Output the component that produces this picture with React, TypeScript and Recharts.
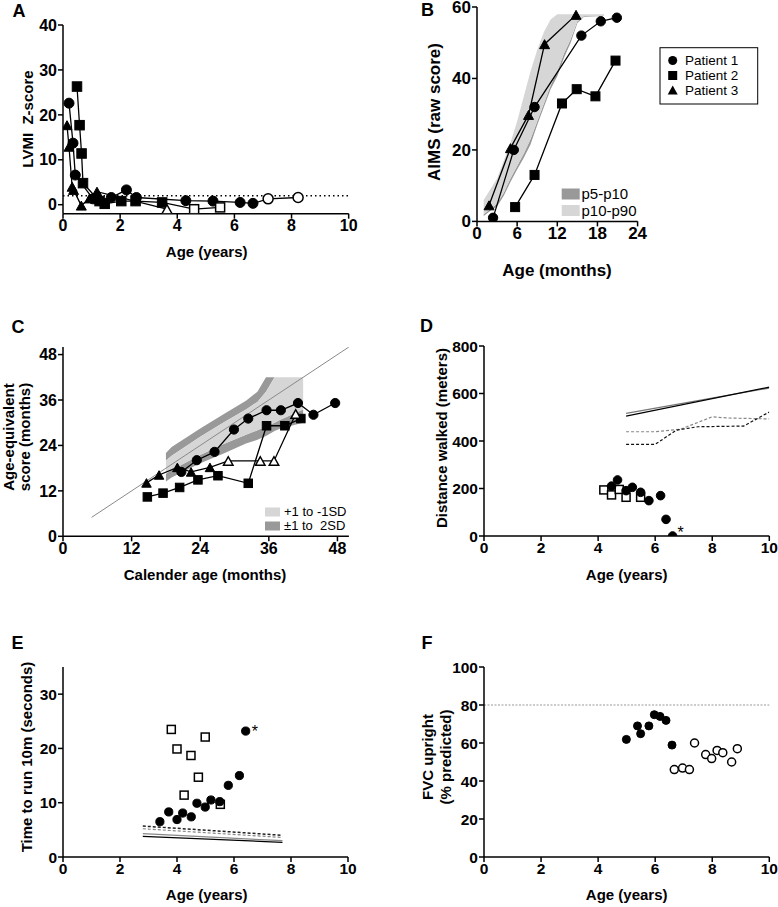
import React from "react";
import { ComposedChart, XAxis, YAxis, Scatter, Area, ReferenceLine } from "recharts";

const FONT = '"Liberation Sans", Arial, Helvetica, sans-serif';

// ---- Panel A: LVMI Z-score vs age (years)
const aP1 = [
  { x: 0.21, y: 22.6 }, { x: 0.35, y: 13.7 }, { x: 0.43, y: 6.6 }, { x: 1.05, y: 1.3 },
  { x: 1.25, y: 1.0 }, { x: 1.69, y: 1.6 }, { x: 2.22, y: 3.3 }, { x: 2.57, y: 1.6 },
  { x: 4.3, y: 0.9 }, { x: 5.25, y: 0.8 }, { x: 6.2, y: 0.5 }, { x: 6.65, y: 0.3 },
];
const aP1Open = [{ x: 7.18, y: 1.3 }, { x: 8.23, y: 1.6 }];
const aP2 = [
  { x: 0.49, y: 26.3 }, { x: 0.58, y: 17.7 }, { x: 0.65, y: 11.4 }, { x: 0.7, y: 4.8 },
  { x: 1.28, y: 0.8 }, { x: 1.46, y: 0.2 }, { x: 2.04, y: 0.8 }, { x: 2.54, y: 0.8 }, { x: 3.47, y: 0.5 },
];
const aP2Open = [{ x: 4.59, y: -1.0 }, { x: 5.5, y: -0.6 }];
const aP3 = [
  { x: 0.14, y: 17.7 }, { x: 0.21, y: 12.9 }, { x: 0.32, y: 4.0 }, { x: 0.37, y: 3.3 },
  { x: 0.64, y: -0.2 }, { x: 0.93, y: 1.4 }, { x: 1.19, y: 2.9 },
];
const aP3Open = [{ x: 3.64, y: -1.0 }];

// ---- Panel B: AIMS raw score vs age (months)
const bP1 = [
  { x: 2.4, y: 1 }, { x: 5.5, y: 20 }, { x: 8.6, y: 32 }, { x: 15.6, y: 52 }, { x: 18.5, y: 56 }, { x: 20.9, y: 57 },
];
const bP2 = [
  { x: 5.7, y: 4 }, { x: 8.6, y: 13 }, { x: 12.7, y: 33 }, { x: 14.9, y: 37 }, { x: 17.7, y: 35 }, { x: 20.7, y: 45 },
];
const bP3 = [
  { x: 1.8, y: 4.5 }, { x: 5.0, y: 20.5 }, { x: 7.7, y: 29.8 }, { x: 10.1, y: 49.6 }, { x: 14.8, y: 57.8 },
];
const bBandMonths = [1, 2, 3, 4, 5, 6, 7, 8, 9, 10, 11, 12, 13, 14, 15, 16, 19];
const bP90 = [6, 9, 12, 17, 22, 28, 35, 42, 48, 53, 56.5, 58, 58, 58, 58, 58, 58];
const bP10 = [2, 3.5, 5, 8, 12, 15.5, 19, 23, 28, 33, 38, 42, 47, 51, 56, 57.5, 57.5];
const bP5 = [1.5, 3, 4.2, 7.2, 11, 14.5, 17.8, 21.5, 27, 32, 37, 40.6, 45.8, 50, 55.5, 57.3, 57.5];

// ---- Panel C: age-equivalent score vs calendar age (months)
const cP1 = [
  { x: 20.7, y: 17.0 }, { x: 23.4, y: 20.1 }, { x: 26.5, y: 22.3 }, { x: 29.9, y: 28.2 }, { x: 32.4, y: 31.1 },
  { x: 35.6, y: 33.3 }, { x: 38.1, y: 33.3 }, { x: 41.1, y: 35.2 }, { x: 43.8, y: 32.1 }, { x: 47.6, y: 35.2 },
];
const cP2 = [
  { x: 14.75, y: 10.4 }, { x: 17.5, y: 11.4 }, { x: 20.4, y: 12.9 }, { x: 23.6, y: 14.9 }, { x: 27.1, y: 16.0 },
  { x: 32.4, y: 14.0 }, { x: 35.6, y: 29.2 }, { x: 38.8, y: 29.2 }, { x: 41.6, y: 31.1 },
];
const cP3 = [
  { x: 14.6, y: 14.1 }, { x: 16.8, y: 16.2 }, { x: 20.0, y: 18.2 }, { x: 22.4, y: 17.0 }, { x: 25.7, y: 18.2 },
];
const cP3Open = [{ x: 28.9, y: 19.9 }, { x: 34.5, y: 19.9 }, { x: 36.9, y: 19.9 }, { x: 40.7, y: 32.3 }];
const cIdentity = [{ x: 5, y: 5 }, { x: 50, y: 50 }];
const cBandAge = [18, 19, 24, 28, 32, 34, 35.5, 37, 38, 42];
const cUp2 = [22, 23.6, 28.5, 32.2, 35.8, 38.2, 42, 42, 42, 42];
const cUp1 = [20, 21.3, 26.3, 30, 33.5, 35.5, 38.2, 42, 42, 42];
const cLow1 = [16.5, 17.5, 21.5, 24.3, 26.8, 28, 29, 30, 30.8, 33.5];
const cLow2 = [14.5, 15.5, 19.3, 21.8, 24.5, 25.5, 26.5, 27.8, 28.5, 30];

// ---- Panel D: distance walked (m) vs age (years)
const dP1 = [
  { x: 4.47, y: 210 }, { x: 4.68, y: 236 }, { x: 4.98, y: 191 }, { x: 5.2, y: 205 }, { x: 5.49, y: 184 },
  { x: 5.78, y: 149 }, { x: 6.19, y: 170 }, { x: 6.38, y: 70 }, { x: 6.61, y: 0 },
];
const dOpen = [
  { x: 4.2, y: 194 }, { x: 4.47, y: 173 }, { x: 4.74, y: 196 }, { x: 4.98, y: 163 }, { x: 5.49, y: 163 },
];
const dStar = [{ x: 6.61, y: 0 }];
const dSolidDark = [{ x: 4.98, y: 505 }, { x: 10, y: 627 }];
const dSolidGrey = [{ x: 4.98, y: 516 }, { x: 10, y: 623 }];
const dDashGrey = [
  { x: 4.98, y: 439 }, { x: 6.0, y: 439 }, { x: 6.9, y: 450 }, { x: 8.0, y: 502 }, { x: 8.5, y: 497 }, { x: 10, y: 493 },
];
const dDashDark = [
  { x: 4.98, y: 386 }, { x: 6.0, y: 386 }, { x: 6.75, y: 446 }, { x: 7.5, y: 460 }, { x: 9.1, y: 463 }, { x: 10, y: 522 },
];

// ---- Panel E: time to run 10 m (s) vs age (years)
const eP1 = [
  { x: 3.4, y: 6.5 }, { x: 3.71, y: 8.3 }, { x: 4.0, y: 6.9 }, { x: 4.2, y: 8.1 }, { x: 4.5, y: 7.4 },
  { x: 4.7, y: 9.9 }, { x: 4.99, y: 9.2 }, { x: 5.19, y: 10.5 }, { x: 5.5, y: 10.2 }, { x: 5.8, y: 13.2 },
  { x: 6.19, y: 15.0 }, { x: 6.41, y: 23.2 },
];
const eOpen = [
  { x: 3.8, y: 23.5 }, { x: 4.0, y: 19.9 }, { x: 4.49, y: 18.7 }, { x: 4.99, y: 22.1 }, { x: 4.75, y: 14.7 },
  { x: 4.25, y: 11.4 }, { x: 5.52, y: 9.7 },
];
const eStar = [{ x: 6.41, y: 23.2 }];
const eDashDark = [{ x: 2.8, y: 5.7 }, { x: 7.7, y: 4.0 }];
const eDashGrey = [{ x: 2.8, y: 5.2 }, { x: 7.7, y: 3.6 }];
const eSolidGrey = [{ x: 2.8, y: 4.3 }, { x: 7.7, y: 3.0 }];
const eSolidDark = [{ x: 2.8, y: 3.8 }, { x: 7.7, y: 2.7 }];

// ---- Panel F: FVC upright (% predicted) vs age (years)
const fP1 = [
  { x: 4.99, y: 61.9 }, { x: 5.38, y: 69 }, { x: 5.49, y: 64.9 }, { x: 5.78, y: 69 }, { x: 5.97, y: 74.9 },
  { x: 6.17, y: 74 }, { x: 6.38, y: 71.9 }, { x: 6.59, y: 58.9 },
];
const fOpen = [
  { x: 6.67, y: 46 }, { x: 6.96, y: 46.8 }, { x: 7.2, y: 46 }, { x: 7.38, y: 60 }, { x: 7.77, y: 53.9 },
  { x: 7.98, y: 51.8 }, { x: 8.17, y: 56.1 }, { x: 8.37, y: 54.9 }, { x: 8.68, y: 50 }, { x: 8.88, y: 57 },
];

const yearTicks = [0, 2, 4, 6, 8, 10];

type SP = { cx?: number; cy?: number };

const circle = (r: number, open = false) => (p: SP) =>
  p.cx == null || p.cy == null ? <g /> : (
    <circle cx={p.cx} cy={p.cy} r={r} fill={open ? "#fff" : "#000"} stroke="#000" strokeWidth={open ? 1.5 : 1} />
  );
const square = (s: number, open = false) => (p: SP) =>
  p.cx == null || p.cy == null ? <g /> : (
    <rect x={p.cx - s / 2} y={p.cy - s / 2} width={s} height={s} fill={open ? "#fff" : "#000"} stroke="#000" strokeWidth={open ? 1.5 : 1} />
  );
const triangle = (s: number, open = false) => (p: SP) => {
  if (p.cx == null || p.cy == null) return <g />;
  const h = s * 0.9;
  const pts = `${p.cx - s / 2},${p.cy + h / 2} ${p.cx + s / 2},${p.cy + h / 2} ${p.cx},${p.cy - h / 2}`;
  return <polygon points={pts} fill={open ? "#fff" : "#000"} stroke="#000" strokeWidth={open ? 1.5 : 1} />;
};
const star = (dx: number, dy: number) => (p: SP) =>
  p.cx == null || p.cy == null ? <g /> : (
    <text x={p.cx + dx} y={p.cy + dy} fontSize={16} fontFamily={FONT} fill="#000">*</text>
  );
const noMark = () => <g />;

type Box = { l: number; t: number; r: number; b: number };
const PAD_L = 60;
const PAD_T = 10;
const PAD_R = 12;
const PAD_B = 10;
const XH = 30;

function Panel(props: {
  box: Box;
  xDomain: [number, number];
  yDomain: [number, number];
  xTicks: number[];
  yTicks: number[];
  rows?: object[];
  fontSize?: number;
  children: React.ReactNode;
}) {
  const { box, xDomain, yDomain, xTicks, yTicks, rows, fontSize = 15.5, children } = props;
  const tick = { fill: "#000", fontSize, fontWeight: 700, fontFamily: FONT };
  const axisLine = { stroke: "#000", strokeWidth: 1.5 };
  return (
    <div style={{ position: "absolute", left: box.l - PAD_L, top: box.t - PAD_T }}>
      <ComposedChart
        width={box.r - box.l + PAD_L + PAD_R}
        height={box.b - box.t + PAD_T + XH + PAD_B}
        data={rows ?? []}
        margin={{ top: PAD_T, right: PAD_R, bottom: PAD_B, left: 0 }}
      >
        <XAxis
          type="number"
          dataKey="x"
          domain={xDomain}
          ticks={xTicks}
          interval={0}
          allowDataOverflow
          height={XH}
          tick={tick}
          tickSize={5}
          tickMargin={1}
          axisLine={axisLine}
          tickLine={axisLine}
        />
        <YAxis
          type="number"
          dataKey="y"
          domain={yDomain}
          ticks={yTicks}
          interval={0}
          allowDataOverflow
          width={PAD_L}
          tick={tick}
          tickSize={5}
          tickMargin={1}
          axisLine={axisLine}
          tickLine={axisLine}
        />
        {children}
      </ComposedChart>
    </div>
  );
}

const joined = (stroke: string, width = 1.3, dash?: string) => ({
  stroke,
  strokeWidth: width,
  strokeDasharray: dash,
});

const bRows = bBandMonths.map((m, i) => ({ x: m, light: [bP10[i], bP90[i]], dark: [bP5[i], bP10[i]] }));
const cRows = cBandAge.map((a, i) => ({
  x: a,
  hi: [cUp1[i], cUp2[i]],
  mid: [cLow1[i], cUp1[i]],
  lo: [cLow2[i], cLow1[i]],
}));

const LIGHT = "#d6d6d6";
const DARK = "#999999";

export default function App() {
  const title = { fontFamily: FONT, fontWeight: 700, fill: "#000" } as const;
  return (
    <div style={{ position: "absolute", left: 0, top: 0, width: 778, height: 907, background: "#fff" }}>
      {/* A */}
      <Panel box={{ l: 63.3, t: 25, r: 349, b: 213.7 }} xDomain={[0, 10]} yDomain={[-2, 40]} xTicks={yearTicks} yTicks={[0, 10, 20, 30, 40]} fontSize={16}>
        <ReferenceLine y={2} stroke="#000" strokeWidth={1.5} strokeDasharray="1.5 3" />
        <Scatter data={[...aP1, ...aP1Open]} line={joined("#000")} shape={noMark} isAnimationActive={false} />
        <Scatter data={[...aP2, ...aP2Open]} line={joined("#000")} shape={noMark} isAnimationActive={false} />
        <Scatter data={[...aP3, ...aP3Open]} line={joined("#000")} shape={noMark} isAnimationActive={false} />
        <Scatter data={aP1} shape={circle(5)} isAnimationActive={false} />
        <Scatter data={aP1Open} shape={circle(5, true)} isAnimationActive={false} />
        <Scatter data={aP2} shape={square(9.5)} isAnimationActive={false} />
        <Scatter data={aP2Open} shape={square(9, true)} isAnimationActive={false} />
        <Scatter data={aP3} shape={triangle(10)} isAnimationActive={false} />
        <Scatter data={aP3Open} shape={triangle(10, true)} isAnimationActive={false} />
      </Panel>

      {/* B */}
      <Panel box={{ l: 476.7, t: 7.3, r: 637.3, b: 221.7 }} xDomain={[0, 24]} yDomain={[0, 60]} xTicks={[0, 6, 12, 18, 24]} yTicks={[0, 20, 40, 60]} rows={bRows} fontSize={17}>
        <Area dataKey="dark" type="linear" stroke="none" fill={DARK} fillOpacity={1} isAnimationActive={false} />
        <Area dataKey="light" type="linear" stroke="none" fill={LIGHT} fillOpacity={1} isAnimationActive={false} />
        <Scatter data={bP1} line={joined("#000")} shape={circle(4.7)} isAnimationActive={false} />
        <Scatter data={bP2} line={joined("#000")} shape={square(9)} isAnimationActive={false} />
        <Scatter data={bP3} line={joined("#000")} shape={triangle(10)} isAnimationActive={false} />
      </Panel>

      {/* C */}
      <Panel box={{ l: 63.3, t: 346.7, r: 349.2, b: 536 }} xDomain={[0, 50]} yDomain={[0, 50]} xTicks={[0, 12, 24, 36, 48]} yTicks={[0, 12, 24, 36, 48]} rows={cRows} fontSize={16}>
        <Area dataKey="hi" type="linear" stroke="none" fill={DARK} fillOpacity={1} isAnimationActive={false} />
        <Area dataKey="lo" type="linear" stroke="none" fill={DARK} fillOpacity={1} isAnimationActive={false} />
        <Area dataKey="mid" type="linear" stroke="none" fill={LIGHT} fillOpacity={1} isAnimationActive={false} />
        <Scatter data={cIdentity} line={joined("#8a8a8a", 1)} shape={noMark} isAnimationActive={false} />
        <Scatter data={[...cP3, ...cP3Open]} line={joined("#000")} shape={noMark} isAnimationActive={false} />
        <Scatter data={cP1} line={joined("#000")} shape={circle(4.6)} isAnimationActive={false} />
        <Scatter data={cP2} line={joined("#000")} shape={square(8.5)} isAnimationActive={false} />
        <Scatter data={cP3} shape={triangle(9.5)} isAnimationActive={false} />
        <Scatter data={cP3Open} shape={triangle(9.5, true)} isAnimationActive={false} />
      </Panel>

      {/* D */}
      <Panel box={{ l: 484, t: 346, r: 769.3, b: 536 }} xDomain={[0, 10]} yDomain={[0, 800]} xTicks={yearTicks} yTicks={[0, 200, 400, 600, 800]}>
        <Scatter data={dSolidGrey} line={joined("#777", 1.2)} shape={noMark} isAnimationActive={false} />
        <Scatter data={dSolidDark} line={joined("#000", 1.2)} shape={noMark} isAnimationActive={false} />
        <Scatter data={dDashGrey} line={joined("#888", 1.2, "3 2")} shape={noMark} isAnimationActive={false} />
        <Scatter data={dDashDark} line={joined("#111", 1.2, "3 2")} shape={noMark} isAnimationActive={false} />
        <Scatter data={dOpen} shape={square(8, true)} isAnimationActive={false} />
        <Scatter data={dP1} shape={circle(4.3)} isAnimationActive={false} />
        <Scatter data={dStar} shape={star(5, 2)} isAnimationActive={false} />
      </Panel>

      {/* E */}
      <Panel box={{ l: 63.3, t: 666.7, r: 348.3, b: 856.7 }} xDomain={[0, 10]} yDomain={[0, 35]} xTicks={yearTicks} yTicks={[0, 10, 20, 30]}>
        <Scatter data={eSolidGrey} line={joined("#888", 1.2)} shape={noMark} isAnimationActive={false} />
        <Scatter data={eSolidDark} line={joined("#000", 1.2)} shape={noMark} isAnimationActive={false} />
        <Scatter data={eDashGrey} line={joined("#888", 1.2, "3 2")} shape={noMark} isAnimationActive={false} />
        <Scatter data={eDashDark} line={joined("#222", 1.5, "3 2")} shape={noMark} isAnimationActive={false} />
        <Scatter data={eOpen} shape={square(8, true)} isAnimationActive={false} />
        <Scatter data={eP1} shape={circle(4.1)} isAnimationActive={false} />
        <Scatter data={eStar} shape={star(6, 6)} isAnimationActive={false} />
      </Panel>

      {/* F */}
      <Panel box={{ l: 484, t: 666.7, r: 769.3, b: 856.7 }} xDomain={[0, 10]} yDomain={[0, 100]} xTicks={yearTicks} yTicks={[0, 20, 40, 60, 80, 100]}>
        <ReferenceLine y={80} stroke="#999" strokeWidth={1} strokeDasharray="2 1.5" />
        <Scatter data={fP1} shape={circle(4)} isAnimationActive={false} />
        <Scatter data={fOpen} shape={circle(4, true)} isAnimationActive={false} />
      </Panel>

      {/* titles, panel letters and legends */}
      <svg width={778} height={907} style={{ position: "absolute", left: 0, top: 0, pointerEvents: "none" }}>
        <g style={title} fontSize={18}>
          <text x={12.5} y={17}>A</text>
          <text x={421} y={16}>B</text>
          <text x={11.5} y={333}>C</text>
          <text x={420} y={332}>D</text>
          <text x={11.5} y={649}>E</text>
          <text x={421.5} y={649}>F</text>
        </g>
        <g style={title} fontSize={15} textAnchor="middle">
          <text x={206.7} y={257}>Age (years)</text>
          <text x={205} y={580}>Calender age (months)</text>
          <text x={626.7} y={580}>Age (years)</text>
          <text x={206.7} y={900}>Age (years)</text>
          <text x={626.7} y={900}>Age (years)</text>
          <text transform="translate(33,119) rotate(-90)">{"LVMI\u00a0 Z-score"}</text>
          <text transform="translate(14,437) rotate(-90)">Age-equivalent</text>
          <text transform="translate(30,437) rotate(-90)">score (months)</text>
          <text transform="translate(447,438) rotate(-90)">Distance walked (meters)</text>
          <text transform="translate(32,757) rotate(-90)">Time to run 10m (seconds)</text>
          <text transform="translate(433,757) rotate(-90)">FVC upright</text>
          <text transform="translate(451,757) rotate(-90)">(% predicted)</text>
        </g>
        <g style={title} fontSize={17} textAnchor="middle">
          <text x={557} y={276}>Age (months)</text>
          <text transform="translate(440,112) rotate(-90)">AIMS (raw score)</text>
        </g>

        {/* B patient legend */}
        <rect x={660} y={47.7} width={97.7} height={56.3} fill="#fff" stroke="#000" strokeWidth={1} />
        <circle cx={672.7} cy={60.5} r={4.5} fill="#000" />
        <rect x={668.2} y={71} width={9} height={9} fill="#000" />
        <polygon points="667.7,94.5 677.7,94.5 672.7,85.5" fill="#000" />
        <g fontFamily={FONT} fontSize={13.5} fill="#000">
          <text x={685} y={65}>Patient 1</text>
          <text x={685} y={80}>Patient 2</text>
          <text x={685} y={95}>Patient 3</text>
        </g>

        {/* B band legend */}
        <rect x={561.7} y={188.5} width={18} height={11} fill={DARK} />
        <rect x={561.7} y={205} width={18} height={11} fill={LIGHT} />
        <g fontFamily={FONT} fontSize={15} fill="#000">
          <text x={581.5} y={199}>p5-p10</text>
          <text x={581.5} y={215.5}>p10-p90</text>
        </g>

        {/* C band legend */}
        <rect x={265} y={507.5} width={15} height={9} fill={LIGHT} />
        <rect x={265} y={521.5} width={15} height={9} fill={DARK} />
        <g fontFamily={FONT} fontSize={13} fill="#000">
          <text x={284} y={516}>+1 to -1SD</text>
          <text x={284} y={530}>{"±1 to\u00a0 2SD"}</text>
        </g>
      </svg>
    </div>
  );
}
